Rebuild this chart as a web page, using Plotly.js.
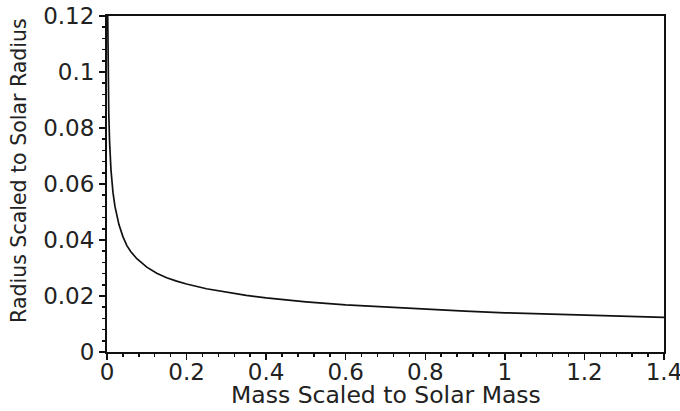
<!DOCTYPE html>
<html>
<head>
<meta charset="utf-8">
<script src="https://cdn.plot.ly/plotly-3.0.1.min.js"></script>
<style>html,body{margin:0;padding:0;background:#fff;}#chart{width:680px;height:411px;}</style>
</head>
<body>
<div id="chart"></div>
<script>
// Values
const mass = [0.0014, 0.002, 0.003, 0.0045, 0.0065, 0.0085, 0.01, 0.015, 0.02, 0.03, 0.04, 0.05, 0.06, 0.075, 0.1, 0.125, 0.15, 0.175, 0.2, 0.25, 0.3, 0.35, 0.4, 0.5, 0.6, 0.7, 0.8, 0.9, 1.0, 1.1, 1.2, 1.3, 1.4];
const radius = [0.125, 0.112, 0.097, 0.085, 0.075, 0.069, 0.065, 0.057, 0.052, 0.0455, 0.0412, 0.038, 0.0358, 0.0333, 0.0303, 0.0281, 0.0265, 0.0253, 0.0243, 0.0226, 0.0213, 0.0202, 0.0193, 0.0179, 0.0168, 0.0160, 0.0153, 0.0146, 0.0140, 0.0136, 0.0132, 0.0128, 0.0124];
const xTickVals = [0, 0.2, 0.4, 0.6, 0.8, 1.0, 1.2, 1.4];
const xTickText = ["0", "0.2", "0.4", "0.6", "0.8", "1", "1.2", "1.4"];
const yTickVals = [0, 0.02, 0.04, 0.06, 0.08, 0.10, 0.12];
const yTickText = ["0", "0.02", "0.04", "0.06", "0.08", "0.1", "0.12"];
const xTitle = "Mass Scaled to Solar Mass";
const yTitle = "Radius Scaled to Solar Radius";

const FAM = "DejaVu Sans, Verdana, sans-serif";
const tickFont = {family: FAM, size: 23, color: "#222"};
const xTitleFont = {family: FAM, size: 23.5, color: "#222"};
const yTitleFont = {family: FAM, size: 20.5, color: "#222"};

const trace = {
  x: mass, y: radius, type: "scatter", mode: "lines",
  line: {color: "#111", width: 1.7},
  cliponaxis: true, hoverinfo: "skip"
};

const axisCommon = {
  showgrid: false, zeroline: false, showline: true, linecolor: "#111", linewidth: 2,
  mirror: true, ticks: "outside", ticklen: 6, tickwidth: 1.5, tickcolor: "#111",
  tickfont: tickFont, tickmode: "array", fixedrange: true, ticklabeloverflow: "allow"
};

const layout = {
  width: 680, height: 411,
  margin: {l: 107, r: 16, t: 16, b: 59},
  paper_bgcolor: "#fff", plot_bgcolor: "#fff",
  showlegend: false,
  xaxis: Object.assign({}, axisCommon, {
    range: [0, 1.4], tickvals: xTickVals, ticktext: xTickText, ticklabelstandoff: -8,
    minor: {dtick: 0.04, tick0: 0, ticks: "outside", ticklen: 3, tickwidth: 1.5, tickcolor: "#111", showgrid: false}
  }),
  yaxis: Object.assign({}, axisCommon, {
    range: [0, 0.12], tickvals: yTickVals, ticktext: yTickText,
    minor: {dtick: 0.004, tick0: 0, ticks: "outside", ticklen: 3, tickwidth: 1.5, tickcolor: "#111", showgrid: false}
  }),
  annotations: [
    {text: xTitle, xref: "paper", yref: "paper", x: 0.5, y: -0.172, xanchor: "center", yanchor: "bottom",
     showarrow: false, font: xTitleFont, borderpad: 0},
    {text: yTitle, xref: "paper", yref: "paper", x: -0.158, y: 0.542, xanchor: "center", yanchor: "middle",
     textangle: -90, showarrow: false, font: yTitleFont, borderpad: 0}
  ]
};

Plotly.newPlot("chart", [trace], layout, {displayModeBar: false, staticPlot: true});
</script>
</body>
</html>
